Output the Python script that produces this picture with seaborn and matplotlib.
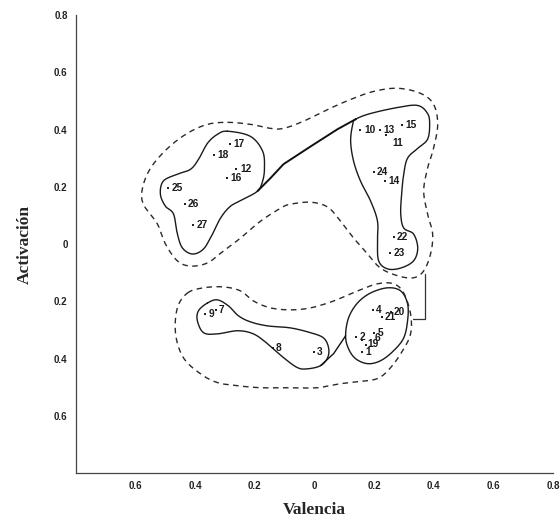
import numpy as np
import pandas as pd
import matplotlib.pyplot as plt
import seaborn as sns

# emotion terms (numbered) placed on valence / activation
labels = ['1', '2', '3', '4', '5', '6', '7', '8', '9', '10', '11', '12', '13', '14',
          '15', '16', '17', '18', '19', '20', '21', '22', '23', '24', '25', '26', '27']
valencia = [0.158, 0.138, -0.003, 0.195, 0.201, 0.174, -0.332, -0.141, -0.366, 0.154,
            0.238, -0.262, 0.218, 0.235, 0.292, -0.295, -0.285, -0.336, 0.158, 0.255,
            0.225, 0.265, 0.252, 0.198, -0.490, -0.436, -0.406]
activacion = [-0.376, -0.324, -0.376, -0.230, -0.310, -0.352, -0.230, -0.362, -0.244, 0.400,
              0.382, 0.261, 0.400, 0.220, 0.415, 0.230, 0.348, 0.310, -0.334, -0.237,
              -0.254, 0.024, -0.031, 0.251, 0.195, 0.139, 0.066]

# hand-drawn cluster outlines (data units)
blob_sup_izq_x = [-0.292, -0.215, -0.174, -0.168, -0.174, -0.191, -0.238, -0.282, -0.315, -0.342,
                  -0.372, -0.409, -0.443, -0.460, -0.473, -0.500, -0.517, -0.507, -0.460, -0.416,
                  -0.389, -0.359, -0.326]
blob_sup_izq_y = [0.394, 0.376, 0.324, 0.265, 0.220, 0.185, 0.157, 0.132, 0.091, 0.035,
                  -0.017, -0.035, -0.014, 0.035, 0.105, 0.132, 0.174, 0.220, 0.244, 0.261,
                  0.296, 0.352, 0.383]
blob_sup_der_x = [0.138, 0.188, 0.279, 0.346, 0.379, 0.386, 0.379, 0.346, 0.312, 0.299,
                  0.292, 0.289, 0.299, 0.332, 0.346, 0.332, 0.289, 0.245, 0.215, 0.211,
                  0.211, 0.188, 0.154, 0.131, 0.121, 0.128]
blob_sup_der_y = [0.436, 0.456, 0.477, 0.484, 0.456, 0.418, 0.366, 0.334, 0.300, 0.244,
                  0.174, 0.105, 0.056, 0.035, -0.014, -0.059, -0.084, -0.087, -0.059, 0.010,
                  0.080, 0.150, 0.220, 0.289, 0.359, 0.418]
union_sup_x = [-0.191, -0.148, -0.104, -0.013, 0.077, 0.138]
union_sup_y = [0.185, 0.230, 0.279, 0.341, 0.401, 0.436]

blob_inf_izq_x = [-0.359, -0.326, -0.289, -0.255, -0.215, -0.158, -0.081, -0.013, 0.030, 0.047,
                  0.044, 0.020, -0.023, -0.057, -0.104, -0.158, -0.205, -0.258, -0.326, -0.372,
                  -0.393, -0.389]
blob_inf_izq_y = [-0.206, -0.195, -0.216, -0.251, -0.272, -0.286, -0.293, -0.310, -0.328, -0.362,
                  -0.397, -0.425, -0.436, -0.432, -0.397, -0.348, -0.314, -0.303, -0.314, -0.310,
                  -0.268, -0.233]
blob_inf_der_x = [0.104, 0.114, 0.144, 0.188, 0.245, 0.289, 0.312, 0.312, 0.299, 0.265,
                  0.221, 0.178, 0.138, 0.114]
blob_inf_der_y = [-0.321, -0.258, -0.206, -0.171, -0.153, -0.164, -0.209, -0.268, -0.328, -0.373,
                  -0.408, -0.418, -0.401, -0.366]
union_inf_x = [0.020, 0.064, 0.104]
union_inf_y = [-0.425, -0.383, -0.321]

envolvente_sup_x = [-0.292, -0.215, -0.148, -0.104, -0.037, 0.044, 0.121, 0.198, 0.279, 0.356,
                    0.399, 0.413, 0.399, 0.379, 0.366, 0.379, 0.396, 0.389, 0.366, 0.332,
                    0.279, 0.221, 0.178, 0.131, 0.087, 0.044, -0.013, -0.081, -0.114, -0.181,
                    -0.248, -0.305, -0.359, -0.416, -0.460, -0.500, -0.527, -0.574, -0.577, -0.550,
                    -0.493, -0.426, -0.359]
envolvente_sup_y = [0.425, 0.418, 0.404, 0.404, 0.429, 0.470, 0.505, 0.533, 0.544, 0.526,
                    0.488, 0.418, 0.334, 0.265, 0.185, 0.105, 0.035, -0.035, -0.094, -0.118,
                    -0.111, -0.084, -0.035, 0.021, 0.080, 0.129, 0.146, 0.139, 0.125, 0.080,
                    0.021, -0.024, -0.066, -0.077, -0.059, 0.000, 0.070, 0.139, 0.195, 0.265,
                    0.334, 0.387, 0.418]
envolvente_inf_x = [-0.426, -0.372, -0.305, -0.248, -0.205, -0.148, -0.081, -0.013, 0.064, 0.144,
                    0.211, 0.265, 0.299, 0.322, 0.322, 0.295, 0.255, 0.211, 0.144, 0.087,
                    0.010, -0.081, -0.181, -0.258, -0.326, -0.383, -0.440, -0.466, -0.460]
envolvente_inf_y = [-0.171, -0.153, -0.150, -0.164, -0.199, -0.223, -0.230, -0.223, -0.199, -0.164,
                    -0.139, -0.139, -0.171, -0.244, -0.314, -0.373, -0.432, -0.470, -0.481, -0.488,
                    -0.502, -0.502, -0.502, -0.495, -0.484, -0.453, -0.397, -0.314, -0.223]
corchete_x = [0.372, 0.372, 0.329]
corchete_y = [-0.105, -0.261, -0.261]

ticks = [-0.6, -0.4, -0.2, 0, 0.2, 0.4, 0.6, 0.8]
tick_text = ['0.6', '0.4', '0.2', '0', '0.2', '0.4', '0.6', '0.8']

# label nudges (points) where the printed numbers overlap
nudge = {'11': (5, -6), '6': (6, 5), '19': (4, -3)}


def smooth_closed(xs, ys, n=14):
    p = np.column_stack([xs, ys])
    k = len(p)
    t = np.linspace(0, 1, n, endpoint=False)[:, None]
    segs = []
    for i in range(k):
        p0, p1, p2, p3 = p[i - 1], p[i], p[(i + 1) % k], p[(i + 2) % k]
        segs.append(0.5 * (2 * p1 + (-p0 + p2) * t + (2 * p0 - 5 * p1 + 4 * p2 - p3) * t ** 2
                           + (-p0 + 3 * p1 - 3 * p2 + p3) * t ** 3))
    out = np.vstack(segs + [segs[0][:1]])
    return out[:, 0], out[:, 1]


sns.set_style('white')
plt.rcParams['font.family'] = ['Liberation Sans', 'DejaVu Sans']

fig = plt.figure(figsize=(5.6, 5.19), dpi=100)
ax = fig.add_axes([0.1357, 0.0886, 0.852, 0.8825])

df = pd.DataFrame({'v': valencia, 'a': activacion, 'lab': labels})
sns.scatterplot(data=df, x='v', y='a', ax=ax, s=2.5, color='#222222', marker='s',
                linewidth=0, legend=False)
for _, r in df.iterrows():
    dx, dy = nudge.get(r['lab'], (2.5, 0))
    ax.annotate(r['lab'], (r['v'], r['a']), xytext=(dx, dy), textcoords='offset points',
                fontsize=7.3, fontweight='bold', ha='left', va='center', color='#1a1a1a')

solid = dict(color='#1a1a1a', lw=1.0)
dashed = dict(color='#2a2a2a', lw=1.0, ls=(0, (4, 3.2)))
for xs, ys in [(blob_sup_izq_x, blob_sup_izq_y), (blob_sup_der_x, blob_sup_der_y),
               (blob_inf_izq_x, blob_inf_izq_y), (blob_inf_der_x, blob_inf_der_y)]:
    sx, sy = smooth_closed(xs, ys)
    ax.plot(sx, sy, **solid)
for xs, ys in [(envolvente_sup_x, envolvente_sup_y), (envolvente_inf_x, envolvente_inf_y)]:
    sx, sy = smooth_closed(xs, ys)
    ax.plot(sx, sy, **dashed)
ax.plot(union_sup_x, union_sup_y, color='#111111', lw=1.4)
ax.plot(union_inf_x, union_inf_y, color='#111111', lw=1.0)
ax.plot(corchete_x, corchete_y, color='#333333', lw=0.9)

ax.set_xlim(-0.8, 0.8)
ax.set_ylim(-0.8, 0.8)
ax.set_xticks(ticks)
ax.set_xticklabels(tick_text, fontweight='bold')
ax.set_yticks(ticks)
ax.set_yticklabels(tick_text, fontweight='bold')
ax.tick_params(direction='in', length=4, width=0.8, labelsize=7, colors='#222222', pad=6)
sns.despine(ax=ax)
for s in ['left', 'bottom']:
    ax.spines[s].set_color('#444444')
    ax.spines[s].set_linewidth(0.9)

ax.set_xlabel('Valencia', fontsize=12.5, fontweight='bold', family='Liberation Serif', labelpad=8)
ax.set_ylabel('Activación', fontsize=12.5, fontweight='bold', family='Liberation Serif', labelpad=15)

fig.savefig('out.png', dpi=100)
